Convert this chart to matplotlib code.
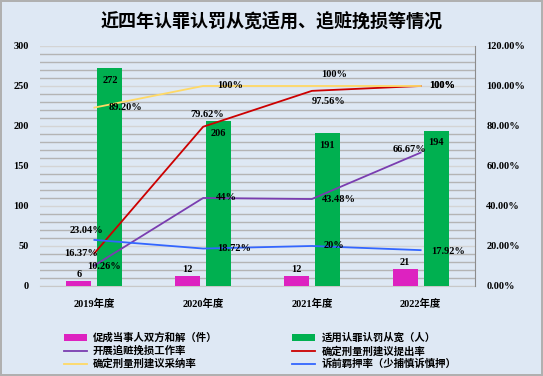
import matplotlib
matplotlib.use('Agg')
from matplotlib import pyplot as plt
from matplotlib.ticker import MultipleLocator, FuncFormatter
import numpy as np

plt.rcParams['font.family'] = ['Liberation Serif', 'Noto Sans CJK SC', 'DejaVu Sans']
plt.rcParams['font.weight'] = 'bold'

years = ['2019年度', '2020年度', '2021年度', '2022年度']
hejie = [6, 12, 12, 21]            # 促成当事人双方和解（件）
renzui = [272, 206, 191, 194]      # 适用认罪认罚从宽（人）
zhuizang = [10.26, 44, 43.48, 66.67]     # 开展追赃挽损工作率
tichu = [16.37, 79.62, 97.56, 100]       # 确定刑量刑建议提出率
caina = [89.20, 100, 100, 100]           # 确定刑量刑建议采纳率
jiya = [23.04, 18.72, 20, 17.92]         # 诉前羁押率

zhuizang_lbl = ['10.26%', '44%', '43.48%', '66.67%']
tichu_lbl = ['16.37%', '79.62%', '97.56%', '100%']
caina_lbl = ['89.20%', '100%', '100%', '100%']
jiya_lbl = ['23.04%', '18.72%', '20%', '17.92%']

bg = '#dee8f4'
fig = plt.figure(figsize=(5.43, 3.76), dpi=100)
fig.patch.set_facecolor(bg)
fig.patch.set_edgecolor('#b0b0b0')
fig.patch.set_linewidth(1.5)

ax = fig.add_axes([0.0737, 0.2394, 0.8011, 0.6383])
ax.set_facecolor(bg)
ax2 = ax.twinx()

x = np.arange(len(years))
w = 0.23
off = 0.143
b1 = ax.bar(x - off, hejie, w, color='#dd22c0', zorder=3, label='促成当事人双方和解（件）')
b2 = ax.bar(x + off, renzui, w, color='#00b050', zorder=3, label='适用认罪认罚从宽（人）')

ax.set_xlim(-0.5, 3.5)
ax.set_ylim(0, 300)
ax.yaxis.set_major_locator(MultipleLocator(50))
ax.yaxis.set_minor_locator(MultipleLocator(10))
ax.grid(which='minor', axis='y', color='#b4b4b4', lw=1, zorder=0)
ax.grid(which='major', axis='y', color='#d4d4d4', lw=1, zorder=0)
ax.set_axisbelow(True)
ax.set_xticks(x)
ax.set_xticklabels(years, fontsize=7.5, fontweight='bold')
ax.tick_params(axis='both', which='both', length=0, labelsize=7.5, pad=8)
ax.tick_params(axis='x', pad=9)
for s in ['top', 'left', 'right']:
    ax.spines[s].set_visible(False)
ax.spines['bottom'].set_color('#c8c8c8')

for i in range(len(years)):
    ax.annotate(str(hejie[i]), (x[i] - off, hejie[i]), xytext=(0, 7), textcoords='offset pixels',
                ha='center', va='center', fontsize=7.5, fontweight='bold')
    ax.annotate(str(renzui[i]), (x[i] + off, renzui[i]), xytext=(0, -12), textcoords='offset pixels',
                ha='center', va='center', fontsize=7.5, fontweight='bold')

l1, = ax2.plot(x, [v / 100 for v in zhuizang], color='#7a3db0', lw=1.3, label='开展追赃挽损工作率')
l2, = ax2.plot(x, [v / 100 for v in tichu], color='#cc0000', lw=1.3, label='确定刑量刑建议提出率')
l3, = ax2.plot(x, [v / 100 for v in caina], color='#ffd966', lw=1.3, label='确定刑量刑建议采纳率')
l4, = ax2.plot(x, [v / 100 for v in jiya], color='#3366ff', lw=1.3, label='诉前羁押率（少捕慎诉慎押）')
ax2.set_ylim(0, 1.2)
ax2.yaxis.set_major_locator(MultipleLocator(0.2))
ax2.yaxis.set_major_formatter(FuncFormatter(lambda v, p: '%.2f%%' % (v * 100)))
ax2.tick_params(axis='y', length=0, labelsize=7.5, pad=8)
for s in ['top', 'left', 'bottom']:
    ax2.spines[s].set_visible(False)
ax2.spines['right'].set_color('#8c8c8c')

# label offsets in pixels
offs = {
    'zz': [(10, -1), (23, 0), (27, 0), (-11, 3)],
    'tc': [(-13, 0), (4, 12), (17, -11), (22, 0)],
    'cn': [(31, 0), (27, 0), (22, 11), (22, 0)],
    'jy': [(-8, 9), (31, 0), (22, 0), (27, -1)],
}
for key, vals, lbls in [('zz', zhuizang, zhuizang_lbl), ('tc', tichu, tichu_lbl),
                        ('cn', caina, caina_lbl), ('jy', jiya, jiya_lbl)]:
    for i in range(len(years)):
        ax2.annotate(lbls[i], (x[i], vals[i] / 100), xytext=offs[key][i], textcoords='offset pixels',
                     ha='center', va='center', fontsize=7.5, fontweight='bold', zorder=5)

fig.text(0.5, 0.945, '近四年认罪认罚从宽适用、追赃挽损等情况', ha='center', va='center',
         fontsize=13, fontweight='bold', family=['Noto Sans CJK SC', 'DejaVu Sans'])

# legend fills column-wise, so order handles to read row by row
handles = [b1, l1, l3, b2, l2, l4]
leg = fig.legend(handles, [h.get_label() for h in handles], ncol=2, loc='upper left',
                 bbox_to_anchor=(0.1, 0.14), frameon=False,
                 prop={'family': ['Noto Sans CJK SC', 'DejaVu Sans'], 'weight': 'bold', 'size': 7.5},
                 handlelength=2.2, handleheight=0.6, handletextpad=0.6,
                 columnspacing=7.2, labelspacing=0.25)

fig.savefig('out.png', dpi=100, facecolor=bg, edgecolor='#b0b0b0')
